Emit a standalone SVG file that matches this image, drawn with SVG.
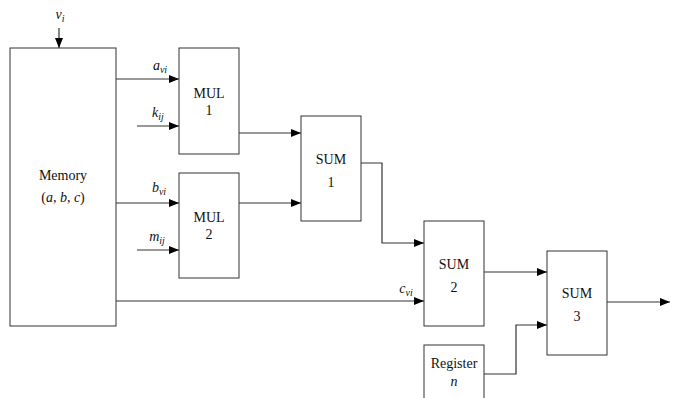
<svg xmlns="http://www.w3.org/2000/svg" width="674" height="398" viewBox="0 0 674 398">
<style>
.box{fill:#fff;stroke:#333;stroke-width:1}
.ln{fill:none;stroke:#333;stroke-width:1.2}
text{font-family:'Liberation Serif','DejaVu Serif',serif;font-size:14px;fill:#111;text-anchor:middle}
.it{font-style:italic}
.sub{font-size:10px;font-style:italic}
</style>
<defs>
<marker id="ah" markerWidth="10" markerHeight="8" refX="10" refY="4" orient="auto" markerUnits="userSpaceOnUse">
<path d="M0,0 L10,4 L0,8 Z" fill="#000"/>
</marker>
</defs>
<rect width="674" height="398" fill="#fff"/>
<g id="connectors">
<path class="ln" d="M59,28 V48" marker-end="url(#ah)"/>
<path class="ln" d="M116,79 H179" marker-end="url(#ah)"/>
<path class="ln" d="M137,126 H179" marker-end="url(#ah)"/>
<path class="ln" d="M116,203 H179" marker-end="url(#ah)"/>
<path class="ln" d="M137,250 H179" marker-end="url(#ah)"/>
<path class="ln" d="M239,133 H301" marker-end="url(#ah)"/>
<path class="ln" d="M239,203 H301" marker-end="url(#ah)"/>
<path class="ln" d="M361,163 H382 V243 H424" marker-end="url(#ah)"/>
<path class="ln" d="M116,301 H424" marker-end="url(#ah)"/>
<path class="ln" d="M484,272 H547" marker-end="url(#ah)"/>
<path class="ln" d="M484,374 H516 V325 H547" marker-end="url(#ah)"/>
<path class="ln" d="M607,302 H670" marker-end="url(#ah)"/>
<text x="60" y="19" class="it">v<tspan class="sub" dy="3">i</tspan></text>
<text x="160" y="70" class="it">a<tspan class="sub" dy="3">vi</tspan></text>
<text x="158" y="117" class="it">k<tspan class="sub" dy="3">ij</tspan></text>
<text x="159" y="192" class="it">b<tspan class="sub" dy="3">vi</tspan></text>
<text x="157" y="241" class="it">m<tspan class="sub" dy="3">ij</tspan></text>
<text x="406" y="293" class="it">c<tspan class="sub" dy="3">vi</tspan></text>
</g>
<g id="memory">
<rect class="box" x="10" y="48" width="106" height="278"/>
<text x="63" y="180">Memory</text>
<text x="63" y="202">(<tspan class="it">a</tspan>, <tspan class="it">b</tspan>, <tspan class="it">c</tspan>)</text>
</g>
<g id="mul1">
<rect class="box" x="179" y="48" width="60" height="106"/>
<text x="209" y="98">MUL</text>
<text x="209" y="115">1</text>
</g>
<g id="mul2">
<rect class="box" x="179" y="173" width="60" height="105"/>
<text x="209" y="222">MUL</text>
<text x="209" y="239">2</text>
</g>
<g id="sum1">
<rect class="box" x="301" y="116" width="60" height="105"/>
<text x="331" y="164">SUM</text>
<text x="331" y="187">1</text>
</g>
<g id="sum2">
<rect class="box" x="424" y="221" width="60" height="105"/>
<text x="454" y="269">SUM</text>
<text x="454" y="292">2</text>
</g>
<g id="sum3">
<rect class="box" x="547" y="251" width="60" height="104"/>
<text x="577" y="298">SUM</text>
<text x="577" y="321">3</text>
</g>
<g id="register">
<rect class="box" x="424" y="345" width="60" height="60"/>
<text x="454" y="368">Register</text>
<text x="454" y="386" class="it">n</text>
</g>
</svg>
